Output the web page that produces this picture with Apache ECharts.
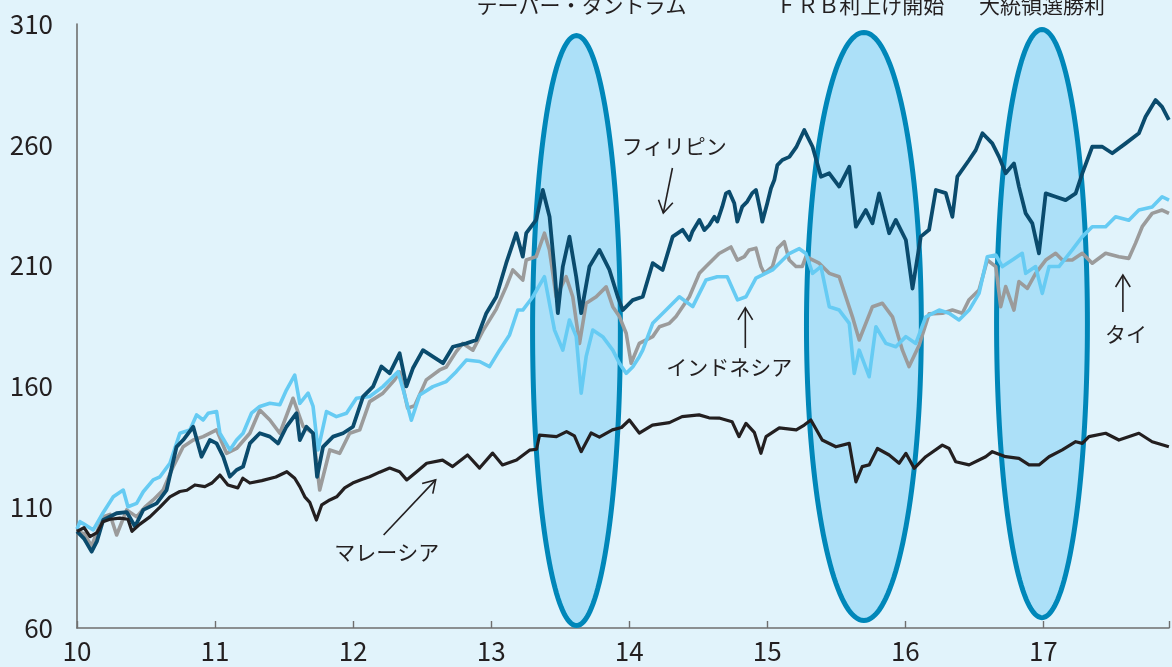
<!DOCTYPE html>
<html>
<head>
<meta charset="utf-8">
<script src="https://cdn.jsdelivr.net/npm/echarts@6/dist/echarts.min.js"></script>
<style>
  html, body { margin: 0; padding: 0; background: #e1f3fb; }
  #chart { width: 1172px; height: 667px; }
</style>
</head>
<body>
<div id="chart"></div>
<script>
// Stock indices of four ASEAN markets, start of 2010 = 100 (x: year, 10 = 2010)
const thailand = [[10.000,100],[10.051,99],[10.106,94],[10.188,106],[10.239,107],[10.287,98.5],[10.360,108.9],[10.432,106],[10.492,110],[10.552,113],[10.624,117.1],[10.697,126.8],[10.769,135],[10.842,137.8],[10.914,139.2],[11.011,142],[11.083,132.3],[11.156,134.3],[11.252,140.6],[11.324,150.2],[11.397,146.1],[11.469,140.6],[11.565,155.1],[11.638,143.4],[11.710,140.6],[11.758,117.1],[11.831,133.7],[11.903,132.3],[11.975,140.6],[12.048,142],[12.120,153.7],[12.216,157.2],[12.301,162.7],[12.337,166],[12.395,151],[12.446,152],[12.530,162.7],[12.627,166.8],[12.675,168],[12.747,174.4],[12.795,177.8],[12.868,175],[12.940,183],[13.037,192],[13.109,201.3],[13.157,208.2],[13.229,204],[13.254,212.3],[13.326,213.7],[13.386,223.4],[13.422,216.5],[13.471,197.1],[13.543,205.4],[13.591,197.1],[13.640,177.8],[13.688,194.4],[13.761,197.1],[13.833,201.2],[13.881,193],[13.929,188.9],[13.978,182],[14.014,169.6],[14.073,177.8],[14.170,180.6],[14.219,184.7],[14.291,186.1],[14.339,188.9],[14.436,197.1],[14.508,206.8],[14.556,209.6],[14.651,215],[14.737,217.7],[14.783,212.3],[14.834,213.7],[14.869,216.5],[14.918,217.2],[14.954,209.6],[14.978,206.8],[15.038,209.6],[15.075,217.2],[15.123,219.9],[15.159,212.3],[15.208,209.6],[15.253,209.6],[15.280,213.7],[15.376,211],[15.449,206.8],[15.521,205.4],[15.617,188.8],[15.666,179.2],[15.762,193],[15.834,194.4],[15.907,188.8],[15.979,175],[16.027,168.2],[16.100,177],[16.172,190],[16.269,190.3],[16.341,191.6],[16.413,190.3],[16.462,195.9],[16.534,199.9],[16.594,212.3],[16.655,209.6],[16.691,193],[16.727,201.3],[16.787,191.6],[16.823,203.4],[16.884,200.6],[16.944,206.8],[17.017,212.3],[17.089,215.1],[17.137,212.3],[17.209,212.3],[17.282,215.1],[17.354,211],[17.451,215.1],[17.547,213.7],[17.619,213],[17.667,219.2],[17.716,226.1],[17.788,231.6],[17.860,233],[17.910,231.6]];

const indonesia = [[10.000,101],[10.022,104],[10.051,103],[10.118,100.6],[10.188,107.6],[10.263,114.3],[10.335,117.1],[10.369,110.2],[10.432,111.6],[10.480,116.4],[10.552,121.3],[10.601,122.6],[10.673,128.2],[10.745,140.6],[10.818,142],[10.866,148.2],[10.914,146.1],[10.950,148.9],[11.011,149.6],[11.035,140.6],[11.107,133.7],[11.156,137.8],[11.203,140.6],[11.264,148.9],[11.324,151.7],[11.397,153],[11.469,152.4],[11.517,158.5],[11.577,164.7],[11.614,153],[11.674,157.2],[11.710,151.7],[11.746,133.7],[11.807,149.6],[11.879,147.5],[11.952,148.9],[12.024,155.1],[12.120,155.8],[12.216,159.9],[12.325,166.1],[12.366,158],[12.422,146],[12.482,156.4],[12.578,159.9],[12.675,162],[12.747,166.1],[12.820,170.9],[12.916,170.3],[12.988,168.2],[13.061,175],[13.133,181.3],[13.193,191.6],[13.229,191.6],[13.302,197.1],[13.386,205.4],[13.422,194.4],[13.459,183.3],[13.519,175],[13.567,187.5],[13.616,180.7],[13.652,157.2],[13.688,172.3],[13.736,183.3],[13.808,180.6],[13.881,175],[13.929,169.6],[13.978,165.4],[14.025,168],[14.073,172.3],[14.098,175],[14.170,186.1],[14.267,191.6],[14.363,197.1],[14.460,193],[14.556,204],[14.638,205.4],[14.710,205.4],[14.785,195.8],[14.846,197.1],[14.918,204.8],[15.038,208.2],[15.159,215],[15.232,217],[15.280,215],[15.328,206.8],[15.389,209.6],[15.449,193],[15.521,191.6],[15.594,186.1],[15.630,165.4],[15.666,175],[15.738,164],[15.787,184.7],[15.859,177.8],[15.931,176.4],[16.004,180.6],[16.076,177.8],[16.148,188.8],[16.245,191.6],[16.317,190.3],[16.389,187.5],[16.462,191.6],[16.534,198.5],[16.594,213.7],[16.655,214.4],[16.703,209.6],[16.775,212.3],[16.847,215.1],[16.872,206.8],[16.944,209.6],[16.992,198.5],[17.041,209.6],[17.113,209.6],[17.209,216.5],[17.282,222],[17.354,226.1],[17.451,226.1],[17.523,230.2],[17.619,228.8],[17.692,233],[17.788,234.3],[17.860,238.5],[17.910,237.1]];

const philippines = [[10.000,100],[10.051,97],[10.106,91.6],[10.145,96],[10.190,104.7],[10.287,107.5],[10.360,108],[10.420,102],[10.480,108.9],[10.577,111.6],[10.649,117.1],[10.721,135],[10.769,137.8],[10.842,143.3],[10.902,130.9],[10.962,137.8],[11.011,136.4],[11.059,130.9],[11.107,122.6],[11.156,125.4],[11.203,126.8],[11.252,136.4],[11.324,140.6],[11.397,139.2],[11.457,136.4],[11.517,143.3],[11.590,148.9],[11.614,137.8],[11.662,143.3],[11.710,140.6],[11.739,122.6],[11.782,135],[11.855,139.2],[11.927,140.6],[11.999,143.3],[12.072,155.8],[12.144,159.9],[12.205,168.2],[12.265,165.4],[12.337,173.7],[12.386,160],[12.433,167.5],[12.506,175],[12.578,172.3],[12.651,169.6],[12.723,176.4],[12.820,177.8],[12.892,179.2],[12.965,190.3],[13.037,197.1],[13.109,211],[13.182,223.4],[13.229,213.7],[13.254,223.4],[13.326,228.9],[13.374,241.3],[13.423,230.2],[13.459,208.2],[13.483,190.3],[13.519,209.6],[13.567,222],[13.616,205.4],[13.652,190.3],[13.712,209.6],[13.784,216.5],[13.857,208.2],[13.917,197.1],[13.953,191.6],[14.025,195.7],[14.098,197.1],[14.170,211],[14.242,208.2],[14.315,222],[14.387,224.8],[14.436,220.6],[14.457,224],[14.508,228.9],[14.544,224.7],[14.580,226.8],[14.617,230.2],[14.638,228.2],[14.674,234.4],[14.701,239.9],[14.724,240.6],[14.761,235.8],[14.783,228.2],[14.819,234.4],[14.855,236.5],[14.891,240],[14.918,241.3],[14.954,231.6],[14.964,228.2],[15.000,235.8],[15.027,242],[15.051,245.4],[15.073,251.6],[15.109,253.7],[15.160,255],[15.210,259],[15.268,266.1],[15.328,259.2],[15.389,246.8],[15.449,248.2],[15.521,242.7],[15.594,250.9],[15.642,226.1],[15.714,233],[15.762,227.5],[15.810,239.9],[15.883,223.4],[15.931,228.9],[16.004,220.6],[16.052,200.5],[16.112,222],[16.172,224.8],[16.221,241.3],[16.293,240],[16.341,230.2],[16.377,246.8],[16.462,253.7],[16.510,257.8],[16.559,264.8],[16.630,260.6],[16.679,255],[16.727,248.2],[16.787,252.3],[16.823,242.7],[16.872,231.6],[16.920,227.5],[16.968,215.1],[17.017,239.9],[17.089,238.5],[17.161,237.1],[17.234,239.9],[17.282,248.2],[17.354,259.2],[17.427,259.2],[17.499,256.5],[17.596,260.6],[17.692,264.8],[17.740,271.6],[17.813,278.5],[17.860,275.7],[17.909,270.3]];

const malaysia = [[10.000,100],[10.051,101.5],[10.094,97.8],[10.145,99.5],[10.188,104],[10.239,105],[10.311,105.5],[10.369,105],[10.398,100],[10.456,103],[10.528,106],[10.601,110],[10.673,114.3],[10.745,116.5],[10.796,117],[10.854,119.2],[10.926,118.5],[10.977,120],[11.035,123.3],[11.093,119.2],[11.165,118],[11.201,122],[11.252,120],[11.339,121],[11.440,122.5],[11.520,124.7],[11.577,122],[11.614,118.5],[11.650,114.3],[11.686,112],[11.734,104.7],[11.773,111],[11.831,113],[11.881,114.3],[11.939,118],[11.997,120],[12.062,121.5],[12.120,122.6],[12.192,124.5],[12.265,126.2],[12.337,124.7],[12.388,121.3],[12.467,125],[12.533,128.2],[12.648,129.5],[12.721,126.8],[12.829,131.6],[12.916,126.2],[13.010,132.4],[13.082,127.5],[13.184,129.5],[13.278,133.6],[13.329,134],[13.350,139.8],[13.473,139.2],[13.546,141.3],[13.603,139.5],[13.652,133],[13.724,140.7],[13.784,139],[13.878,142],[13.944,143],[14.001,146.1],[14.073,140.7],[14.168,144],[14.291,145],[14.383,147.5],[14.506,148.2],[14.578,147],[14.651,146.9],[14.745,145.4],[14.795,139.2],[14.846,144.7],[14.906,141],[14.954,132.3],[14.991,139.2],[15.087,142.8],[15.210,142],[15.268,144],[15.316,146.1],[15.398,137.8],[15.497,135],[15.594,136.4],[15.642,120.5],[15.688,126.8],[15.738,127.5],[15.798,134.3],[15.883,131.6],[15.955,128.2],[16.004,132.3],[16.064,126.1],[16.148,130.9],[16.268,135.7],[16.317,134.3],[16.365,128.8],[16.462,127.5],[16.582,130.9],[16.630,133],[16.727,130.9],[16.823,130.2],[16.896,127.5],[16.968,127.5],[17.041,130.9],[17.137,133.7],[17.234,137.1],[17.282,136.4],[17.330,139.2],[17.451,140.6],[17.547,137.8],[17.692,140.6],[17.788,137.1],[17.909,135]];

// Axis ticks
const yTicks = [60, 110, 160, 210, 260, 310];
const xTicks = [10, 11, 12, 13, 14, 15, 16, 17];

// Market events: name, centre (year, index), half extents (years, index points), caption anchor
const eventNames = ['テーパー・タントラム', 'ＦＲＢ利上げ開始', '大統領選勝利'];
const eventCenterX = [13.618, 15.700, 16.990];
const eventCenterY = [183.1, 184.8, 186.0];
const eventHalfX = [0.318, 0.416, 0.329];
const eventHalfY = [122.1, 121.7, 121.7];
const eventCaptionX = [13.654, 15.673, 16.990];
const eventCaptionY = [318, 318, 318];

// Series call-outs: caption, caption anchor, arrow start and tip (year, index)
const noteNames = ['フィリピン', 'インドネシア', 'タイ', 'マレーシア'];
const noteAt = [[14.327, 259.5], [14.725, 168.0], [17.598, 181.7], [12.243, 91.5]];
const arrowFrom = [[14.313, 250.4], [14.841, 175.9], [17.576, 190.8], [12.221, 98.5]];
const arrowTo = [[14.247, 231.8], [14.841, 192.5], [17.576, 206.1], [12.598, 121.3]];

const FONT = "'Noto Sans CJK JP', 'Noto Sans', sans-serif";
const INK = '#231f20';
const AXIS = '#6f6f6f';

function renderEvent(params, api) {
  const c = api.coord([api.value(0), api.value(1)]);
  const s = api.size([api.value(2), api.value(3)]);
  const pts = [];
  const n = 160;
  for (let i = 0; i < n; i++) {
    const t = (i / n) * Math.PI * 2;
    pts.push([c[0] + s[0] * Math.cos(t), c[1] + s[1] * Math.sin(t)]);
  }
  const cap = api.coord([api.value(4), api.value(5)]);
  return {
    type: 'group',
    children: [
      { type: 'polygon', shape: { points: pts },
        style: { fill: '#ace0f8', stroke: '#0087b9', lineWidth: 5 } },
      { type: 'text', x: cap[0], y: cap[1],
        style: { text: eventNames[params.dataIndex], fill: INK, fontSize: 21, fontFamily: FONT,
                 align: 'center', verticalAlign: 'middle', textAlign: 'center', textVerticalAlign: 'middle' } }
    ]
  };
}

function renderNote(params, api) {
  const i = params.dataIndex;
  const t = api.coord([api.value(0), api.value(1)]);
  const a = api.coord(arrowFrom[i]);
  const b = api.coord(arrowTo[i]);
  const dx = b[0] - a[0], dy = b[1] - a[1];
  const len = Math.hypot(dx, dy) || 1;
  const ux = dx / len, uy = dy / len;
  const L = 14, ang = 0.55, ca = Math.cos(ang), sa = Math.sin(ang);
  const w1 = [b[0] - L * (ux * ca - uy * sa), b[1] - L * (uy * ca + ux * sa)];
  const w2 = [b[0] - L * (ux * ca + uy * sa), b[1] - L * (uy * ca - ux * sa)];
  return {
    type: 'group',
    children: [
      { type: 'line', shape: { x1: a[0], y1: a[1], x2: b[0], y2: b[1] },
        style: { stroke: INK, lineWidth: 1.6 } },
      { type: 'polyline', shape: { points: [w1, b, w2] },
        style: { stroke: INK, lineWidth: 1.6, fill: null } },
      { type: 'text', x: t[0], y: t[1],
        style: { text: noteNames[i], fill: INK, fontSize: 21, fontFamily: FONT,
                 align: 'center', verticalAlign: 'middle', textAlign: 'center', textVerticalAlign: 'middle' } }
    ]
  };
}

const chart = echarts.init(document.getElementById('chart'), null, { renderer: 'canvas' });

const lineSeries = (name, data, color, width) => ({
  name, type: 'line', data, z: 2,
  showSymbol: false, symbol: 'none', smooth: false,
  lineStyle: { color, width, join: 'round' },
  emphasis: { disabled: true }, silent: true, animation: false
});

chart.setOption({
  backgroundColor: '#e1f3fb',
  animation: false,
  grid: { left: 77, top: 24, right: 2, bottom: 39, containLabel: false },
  xAxis: {
    type: 'value', min: xTicks[0], max: 17.91, interval: 1,
    axisLine: { show: true, onZero: false, lineStyle: { color: AXIS, width: 1.6 } },
    axisTick: { show: true, inside: true, length: 7, lineStyle: { color: AXIS, width: 1.4 } },
    splitLine: { show: false },
    axisLabel: {
      margin: 10, fontSize: 26, color: INK, fontFamily: FONT,
      formatter: v => (xTicks.indexOf(v) >= 0 ? String(v) : '')
    }
  },
  yAxis: {
    type: 'value', min: yTicks[0], max: yTicks[yTicks.length - 1], interval: 50,
    axisLine: { show: true, lineStyle: { color: AXIS, width: 1.6 } },
    axisTick: { show: false },
    splitLine: { show: false },
    axisLabel: { margin: 24, fontSize: 26, color: INK, fontFamily: FONT }
  },
  series: [
    {
      type: 'custom', name: 'events', coordinateSystem: 'cartesian2d', z: 1, clip: false, silent: true,
      renderItem: renderEvent,
      encode: { x: 0, y: 1 },
      data: eventNames.map((_, i) => [eventCenterX[i], eventCenterY[i], eventHalfX[i], eventHalfY[i], eventCaptionX[i], eventCaptionY[i]])
    },
    lineSeries('タイ', thailand, '#9b9b9b', 3.6),
    lineSeries('インドネシア', indonesia, '#66cbf3', 3.6),
    lineSeries('フィリピン', philippines, '#0a4b6d', 3.8),
    lineSeries('マレーシア', malaysia, '#231f20', 3.2),
    {
      type: 'custom', name: 'notes', coordinateSystem: 'cartesian2d', z: 3, clip: false, silent: true,
      renderItem: renderNote,
      encode: { x: 0, y: 1 },
      data: noteAt.map(p => [p[0], p[1]])
    }
  ]
});
</script>
</body>
</html>
